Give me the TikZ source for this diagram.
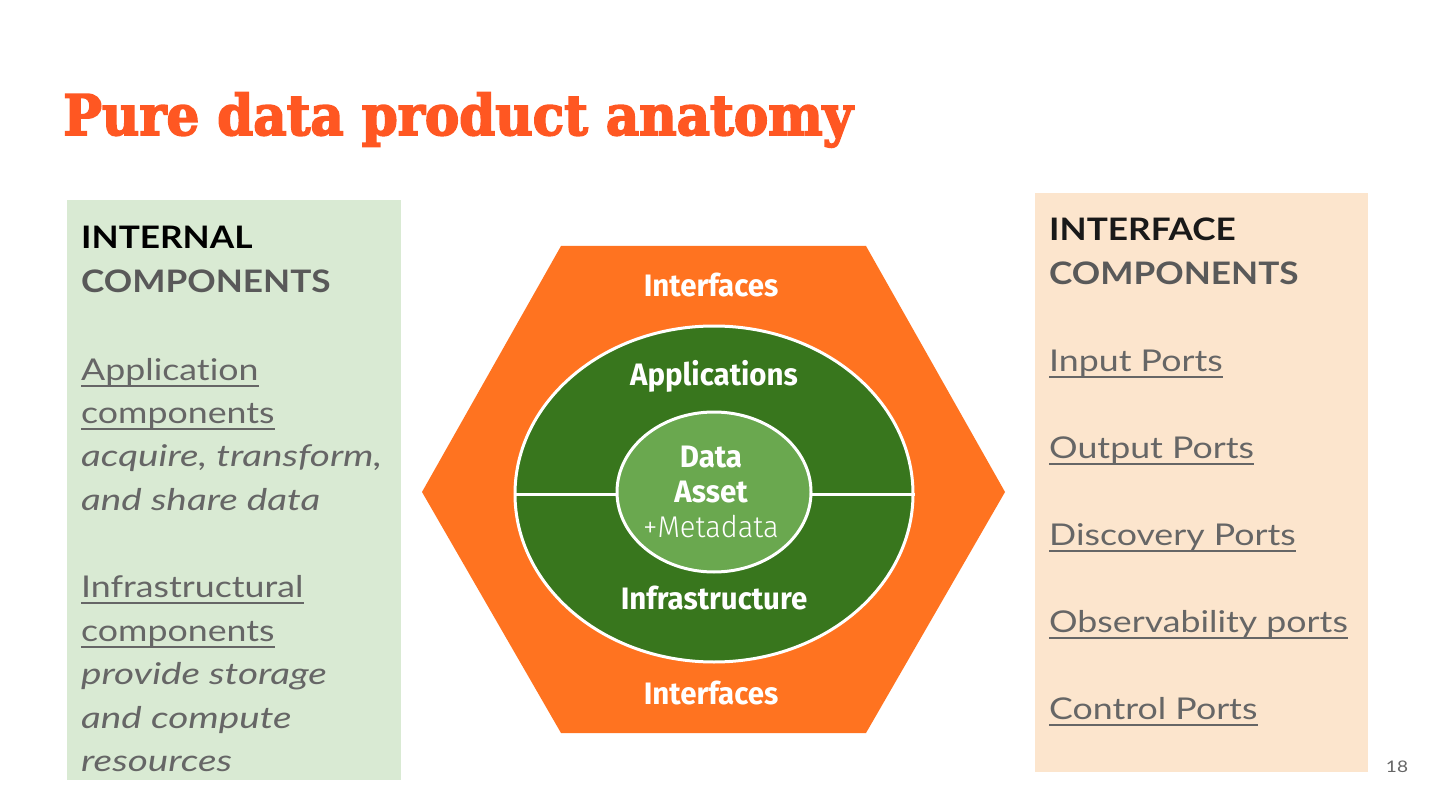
\documentclass[tikz,border=0pt]{standalone}
\usepackage{fontspec}
\usetikzlibrary{shapes.geometric}
\setmainfont{Lato}
\newfontfamily\titlefont{DejaVu Serif}[FakeStretch=0.92,FakeBold=3]
\newfontfamily\hexfont{Fira Sans}[FakeStretch=0.95]
\newfontfamily\hexlight{Fira Sans Light}[FakeStretch=0.97]
\newfontfamily\bodyfont{Lato}[FakeStretch=1.19,Ligatures={NoCommon},BoldFeatures={FakeStretch=1.135},ItalicFeatures={FakeStretch=1.29}]
\definecolor{titleorange}{HTML}{FF5722}
\definecolor{hexorange}{HTML}{FF7320}
\definecolor{dkgreen}{HTML}{38761D}
\definecolor{ltgreen}{HTML}{6AA84F}
\definecolor{boxgreen}{HTML}{D9EAD3}
\definecolor{boxpeach}{HTML}{FCE5CD}
\definecolor{txtgray}{HTML}{666666}
\definecolor{headgray}{HTML}{595959}
\begin{document}
\begin{tikzpicture}[x=1pt,y=-1pt,
  line/.style={anchor=base west,inner sep=0pt,font=\bodyfont\fontsize{30}{36}\selectfont},
  head/.style={line,font=\bodyfont\bfseries\fontsize{31}{36}\selectfont},
  itl/.style={line,text=txtgray,font=\bodyfont\itshape\fontsize{30}{36}\selectfont},
  lnk/.style={line,text=txtgray},
  hex/.style={text=white,inner sep=0pt,font=\hexfont\bfseries\fontsize{31}{36}\selectfont},
  ul/.style={txtgray,line width=2pt}]
\useasboundingbox (0,0) rectangle (1440,810);
\fill[white] (0,0) rectangle (1440,810);
% title
\node[anchor=base west,inner sep=0pt,text=titleorange,font=\titlefont\bfseries\fontsize{56}{60}\selectfont] (title) at (63,135) {Pure data product anatomy};
% boxes
\fill[boxgreen] (67,200) rectangle (401,780);
\fill[boxpeach] (1035,193) rectangle (1368,772);
% left text
\node[head,text=black] (l1) at (81,249) {INTERNAL};
\node[head,text=headgray] (l2) at (81,293) {COMPONENTS};
\node[lnk] (l3) at (81,380) {Application};
\node[lnk] (l4) at (81,423) {components};
\node[itl] (l5) at (81,466) {acquire, transform,};
\node[itl] (l6) at (81,510) {and share data};
\node[lnk] (l7) at (81,597) {Infrastructural};
\node[lnk] (l8) at (81,641) {components};
\node[itl] (l9) at (81,684) {provide storage};
\node[itl] (l10) at (81,728) {and compute};
\node[itl] (l11) at (81,771) {resources};
\foreach \n in {l3,l4,l7,l8}{\draw[ul] ([yshift=-6pt]\n.base west) -- ([yshift=-6pt]\n.base east);}
% right text
\node[head,text=black!90] (r1) at (1049,241) {INTERFACE};
\node[head,text=headgray] (r2) at (1049,284) {COMPONENTS};
\node[lnk] (r3) at (1049,371) {Input Ports};
\node[lnk] (r4) at (1049,458) {Output Ports};
\node[lnk] (r5) at (1049,545) {Discovery Ports};
\node[lnk] (r6) at (1049,632) {Observability ports};
\node[lnk] (r7) at (1049,719) {Control Ports};
\foreach \n in {r3,r4,r5,r6,r7}{\draw[ul] ([yshift=-6pt]\n.base west) -- ([yshift=-6pt]\n.base east);}
% hexagon
\fill[hexorange] (561,246) -- (866,246) -- (1005,492) -- (866,733) -- (561,733) -- (422,492) -- cycle;
\node[ellipse,fill=dkgreen,draw=white,line width=3pt,minimum width=398pt,minimum height=336pt,inner sep=0pt] (outer) at (714,494) {};
\draw[white,line width=3pt] (outer.west) -- (outer.east);
\node[ellipse,fill=ltgreen,draw=white,line width=3pt,minimum width=194pt,minimum height=160pt,inner sep=0pt] (inner) at (714,492) {};
\node[hex] (if1) at (711,285) {Interfaces};
\node[hex] (if2) at (711,693) {Interfaces};
\node[hex] (app) at (714,376) {Applications};
\node[hex] (inf) at (714,598) {Infrastructure};
\node[hex] (d1) at (711,457) {Data};
\node[hex] (d2) at (711,492) {Asset};
\node[text=white,inner sep=0pt,font=\hexlight\fontsize{30}{36}\selectfont] (d3) at (711,527) {+Metadata};
% page number
\node[inner sep=0pt,text=txtgray,font=\bodyfont\fontsize{16}{18}\selectfont] (pg) at (1397,767) {18};
\end{tikzpicture}
\end{document}
